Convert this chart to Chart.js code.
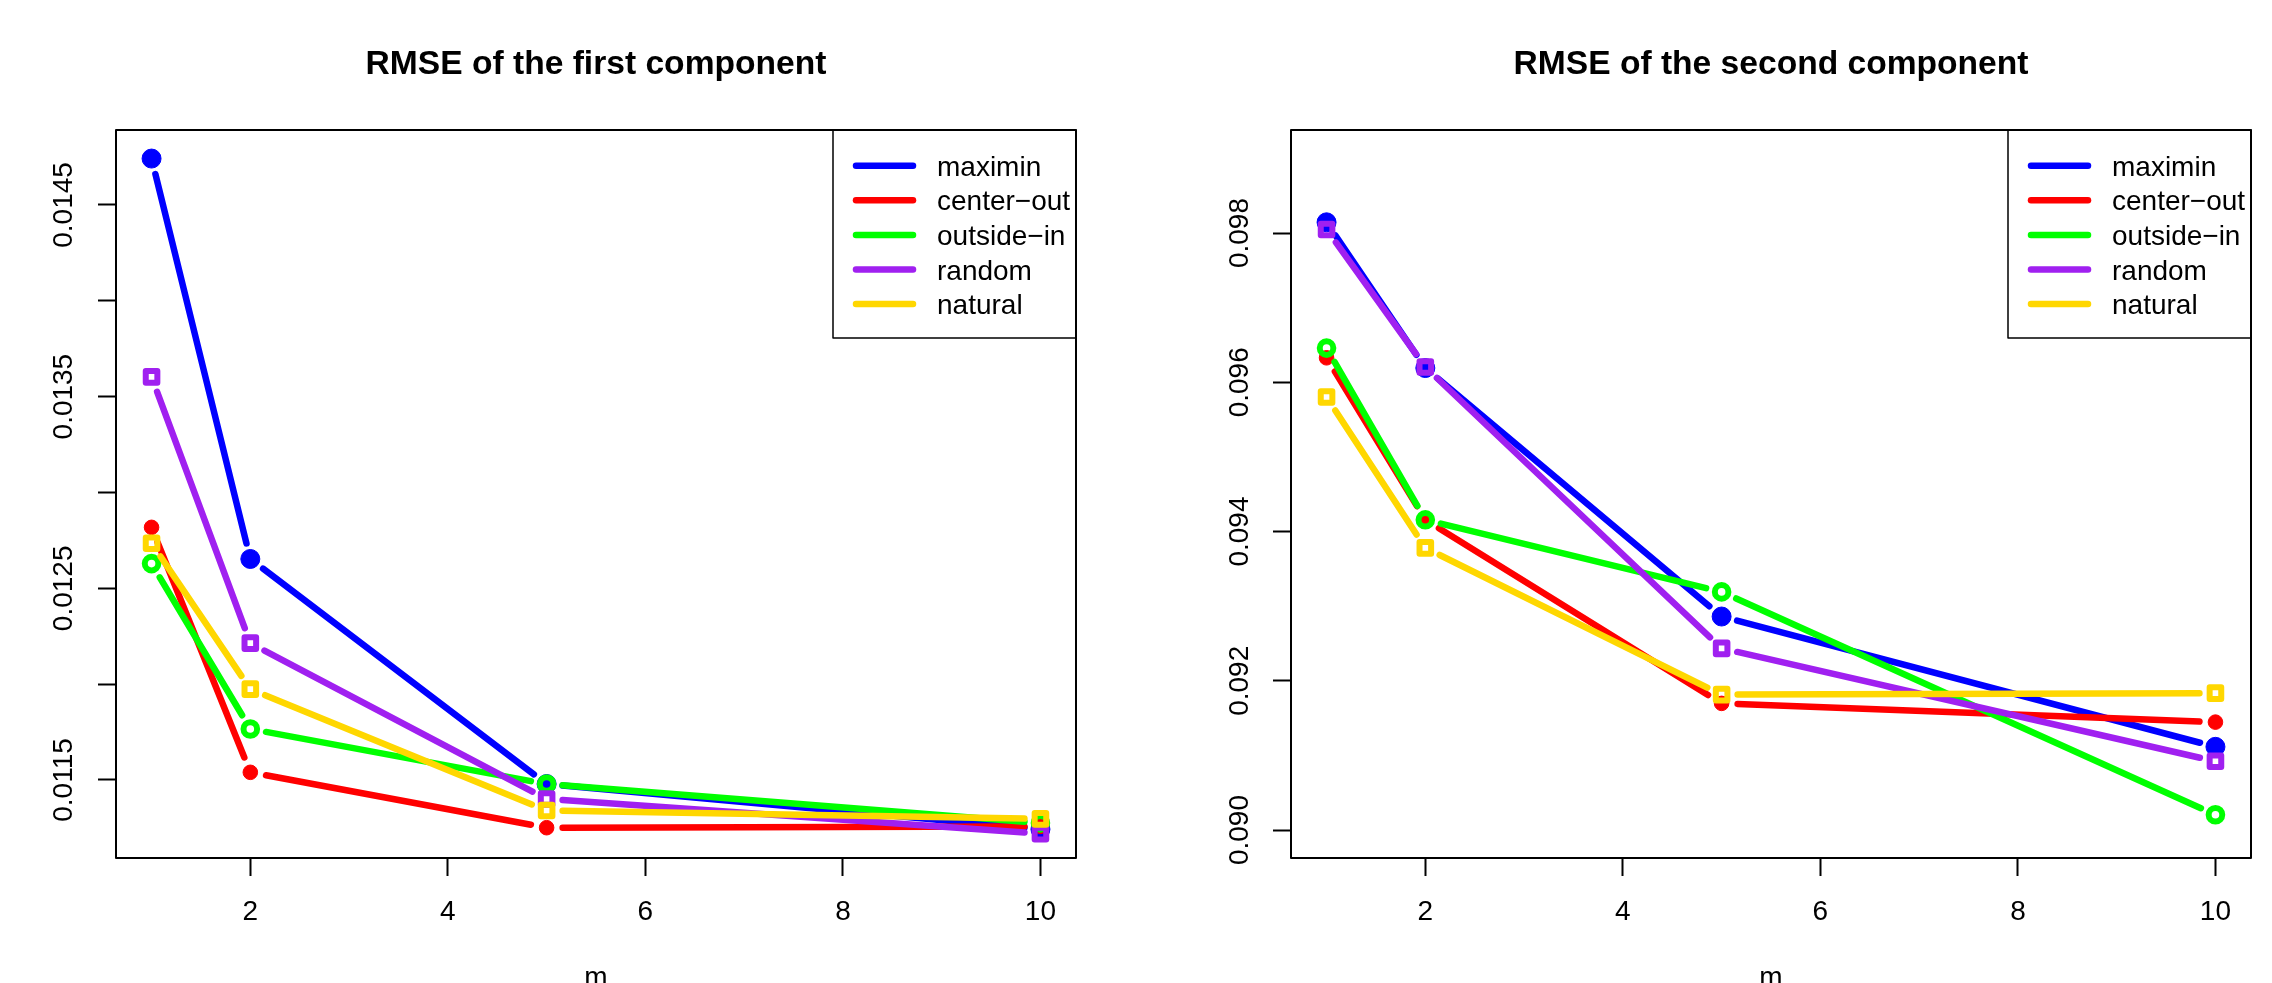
<!DOCTYPE html>
<html>
<head>
<meta charset="utf-8">
<title>RMSE of the first and second component</title>
<script src="https://cdn.jsdelivr.net/npm/chart.js@4/dist/chart.umd.min.js"></script>
<style>
  html, body { margin: 0; padding: 0; background: #fff; }
  .panel { position: absolute; top: 0; width: 1136px; height: 983px; }
  #left { left: 0; }
  #right { left: 1136px; }
</style>
</head>
<body>
<div class="panel" id="left"><canvas id="chartFirst" width="1136" height="983"></canvas></div>
<div class="panel" id="right"><canvas id="chartSecond" width="1136" height="983"></canvas></div>
<script>
const mValues = [1, 2, 5, 10];
const seriesNames = ["maximin", "center\u2212out", "outside\u2212in", "random", "natural"];
const seriesColors = ["#0000FF", "#FF0000", "#00FF00", "#A020F0", "#FFD700"];

// RMSE of the first component
const maximinFirst = [0.014742, 0.012653, 0.011479, 0.011243];
const centerOutFirst = [0.012818, 0.011540, 0.011251, 0.011258];
const outsideInFirst = [0.012629, 0.011766, 0.011479, 0.011276];
const randomFirst = [0.013603, 0.012214, 0.011401, 0.011220];
const naturalFirst = [0.012735, 0.011974, 0.011341, 0.011297];

// RMSE of the second component
const maximinSecond = [0.098144, 0.096191, 0.092861, 0.091115];
const centerOutSecond = [0.096328, 0.094157, 0.091697, 0.091446];
const outsideInSecond = [0.096458, 0.094157, 0.093191, 0.090204];
const randomSecond = [0.098048, 0.096205, 0.092434, 0.090921];
const naturalSecond = [0.095802, 0.093781, 0.091814, 0.091834];

const xTicks = [2, 4, 6, 8, 10];
const yTicksFirst = [0.0115, 0.0120, 0.0125, 0.0130, 0.0135, 0.0140, 0.0145];
const yLabelsFirst = ["0.0115", "", "0.0125", "", "0.0135", "", "0.0145"];
const yTicksSecond = [0.090, 0.092, 0.094, 0.096, 0.098];
const yLabelsSecond = ["0.090", "0.092", "0.094", "0.096", "0.098"];

// marker look, R style: pch 19, 20, 1, 0, 0
const markerStyles = ["circle", "circle", "circle", "rect", "rect"];
const markerRadii = [9.5, 7.3, 6.8, 8.2, 8.2];
const markerBorders = [1, 1, 6, 6, 6];
const markerFilled = [true, true, false, false, false];

const fontFamily = "'Liberation Sans', Arial, Helvetica, sans-serif";

// type = "b": segments stop short of the points
const gappedLines = {
  id: "gappedLines",
  beforeDatasetDraw(chart, args) {
    const ctx = chart.ctx;
    const ds = chart.data.datasets[args.index];
    const pts = args.meta.data;
    const gap = 16;
    ctx.save();
    ctx.strokeStyle = ds.borderColor;
    ctx.lineWidth = ds.borderWidth;
    ctx.lineCap = "round";
    for (let i = 0; i < pts.length - 1; i++) {
      const a = pts[i], b = pts[i + 1];
      const dx = b.x - a.x, dy = b.y - a.y;
      const len = Math.hypot(dx, dy);
      if (len <= 2 * gap) continue;
      const ux = dx / len, uy = dy / len;
      ctx.beginPath();
      ctx.moveTo(a.x + ux * gap, a.y + uy * gap);
      ctx.lineTo(b.x - ux * gap, b.y - uy * gap);
      ctx.stroke();
    }
    ctx.restore();
    ctx.lineJoin = "round"; // rounded corners on the squares
  },
};

// box, title and legend like base R graphics
const rFrame = {
  id: "rFrame",
  afterDraw(chart, args, opts) {
    const ctx = chart.ctx;
    const a = chart.chartArea;
    ctx.save();
    ctx.strokeStyle = "#000";
    ctx.lineWidth = 2;
    ctx.strokeRect(a.left, a.top, a.right - a.left, a.bottom - a.top);

    ctx.fillStyle = "#000";
    ctx.font = "bold 33.6px " + fontFamily;
    ctx.textAlign = "center";
    ctx.textBaseline = "alphabetic";
    ctx.fillText(opts.title, (a.left + a.right) / 2, 74);

    const bx = a.right - 243;
    const by = a.top;
    ctx.lineWidth = 1.5;
    ctx.strokeRect(bx, by, a.right - bx, 208);
    ctx.font = "28px " + fontFamily;
    ctx.textAlign = "left";
    chart.data.datasets.forEach((ds, i) => {
      const y = by + 35.7 + i * 34.6;
      ctx.strokeStyle = ds.borderColor;
      ctx.lineWidth = 6.5;
      ctx.lineCap = "round";
      ctx.beginPath();
      ctx.moveTo(bx + 23, y);
      ctx.lineTo(bx + 80, y);
      ctx.stroke();
      ctx.fillText(ds.label, bx + 104, y + 10);
    });
    ctx.restore();
  },
};

function buildDatasets(seriesValues) {
  return seriesNames.map((name, i) => ({
    label: name,
    data: mValues.map((m, j) => ({ x: m, y: seriesValues[i][j] })),
    borderColor: seriesColors[i],
    borderWidth: 6.5,
    pointStyle: markerStyles[i],
    pointRadius: markerRadii[i],
    pointBorderWidth: markerBorders[i],
    pointBorderColor: seriesColors[i],
    pointBackgroundColor: markerFilled[i] ? seriesColors[i] : "rgba(0,0,0,0)",
    order: seriesNames.length - i,
    clip: false,
  }));
}

function tickGrid() {
  return {
    display: true,
    drawOnChartArea: false,
    drawTicks: true,
    tickLength: 18,
    tickWidth: 2,
    tickColor: "#000",
  };
}

function makeChart(canvasId, title, seriesValues, yMin, yMax, yTicks, yLabels, yWidth, rightPad, labelPad) {
  return new Chart(document.getElementById(canvasId), {
    type: "scatter",
    data: { datasets: buildDatasets(seriesValues) },
    options: {
      responsive: false,
      animation: false,
      events: [],
      layout: { padding: { top: 130, right: rightPad, bottom: 0, left: 0 } },
      plugins: {
        legend: { display: false },
        tooltip: { enabled: false },
        title: { display: false },
        rFrame: { title: title },
      },
      scales: {
        x: {
          type: "linear",
          min: 0.64,
          max: 10.36,
          afterBuildTicks: (s) => { s.ticks = xTicks.map((v) => ({ value: v })); },
          afterFit: (s) => { s.height = 125; },
          grid: tickGrid(),
          border: { display: false },
          ticks: {
            color: "#000",
            font: { family: fontFamily, size: 28 },
            padding: 19,
            maxRotation: 0,
            autoSkip: false,
            callback: (v) => String(v),
          },
          title: {
            display: true,
            text: "m",
            color: "#000",
            font: { family: fontFamily, size: 28 },
            padding: { top: 0, bottom: -12 },
          },
        },
        y: {
          type: "linear",
          min: yMin,
          max: yMax,
          afterBuildTicks: (s) => { s.ticks = yTicks.map((v) => ({ value: v })); },
          afterFit: (s) => { s.width = yWidth; },
          grid: tickGrid(),
          border: { display: false },
          ticks: {
            color: "#000",
            font: { family: fontFamily, size: 28 },
            padding: labelPad,
            minRotation: 90,
            maxRotation: 90,
            crossAlign: "center",
            autoSkip: false,
            callback: (v, i) => yLabels[i],
          },
        },
      },
    },
    plugins: [gappedLines, rFrame],
  });
}

makeChart(
  "chartFirst",
  "RMSE of the first component",
  [maximinFirst, centerOutFirst, outsideInFirst, randomFirst, naturalFirst],
  0.011093, 0.014891, yTicksFirst, yLabelsFirst, 116, 60, -9
);

makeChart(
  "chartSecond",
  "RMSE of the second component",
  [maximinSecond, centerOutSecond, outsideInSecond, randomSecond, naturalSecond],
  0.089625, 0.099381, yTicksSecond, yLabelsSecond, 155, 21, -2
);
</script>
</body>
</html>
